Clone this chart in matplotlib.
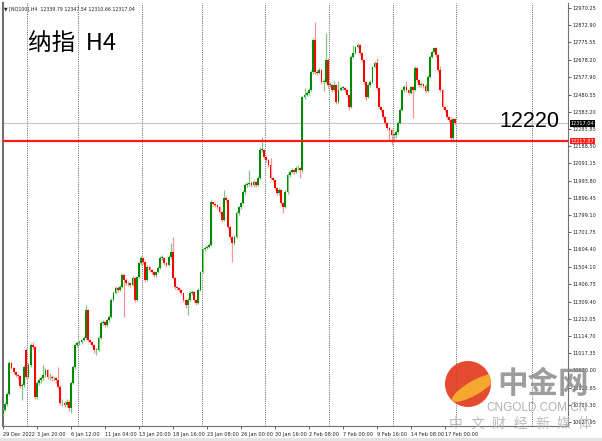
import matplotlib
matplotlib.use('Agg')
import matplotlib.pyplot as plt
from matplotlib.patches import Circle, Ellipse, Rectangle

# NQ100 H4 candles (oldest first)
opens = [10673, 10695, 10729, 10786, 10961, 10933, 10910, 10893, 10888, 10831,
         10837, 11035, 10882, 10950, 11063, 11052, 10769, 10848, 10865, 10876,
         10893, 10922, 10882, 10882, 10876, 10876, 10865, 10826, 10735, 10735,
         10724, 10741, 10707, 10848, 10939, 11063, 11075, 11080, 11092, 11103,
         11261, 11092, 11080, 11063, 11035, 11035, 11103, 11188, 11193, 11176,
         11205, 11222, 11318, 11358, 11386, 11375, 11392, 11459, 11431, 11414,
         11414, 11403, 11443, 11318, 11448, 11527, 11556, 11533, 11431, 11505,
         11488, 11476, 11459, 11476, 11499, 11556, 11556, 11527, 11516, 11561,
         11590, 11443, 11392, 11386, 11375, 11358, 11318, 11290, 11318, 11358,
         11363, 11318, 11301, 11375, 11476, 11607, 11612, 11618, 11629, 11873,
         11861, 11856, 11844, 11816, 11771, 11895, 11884, 11731, 11675, 11641,
         11675, 11810, 11844, 11867, 11929, 11969, 11975, 11980, 11969, 11986,
         11969, 12008, 12167, 12167, 12127, 12110, 12082, 12008, 11997, 11952,
         11924, 11941, 11867, 11844, 11929, 12025, 12042, 12054, 12042, 12065,
         12065, 12054, 12467, 12478, 12490, 12507, 12608, 12790, 12608, 12603,
         12620, 12552, 12552, 12676, 12535, 12535, 12507, 12535, 12439, 12507,
         12518, 12518, 12507, 12478, 12410, 12693, 12716, 12750, 12761, 12716,
         12676, 12552, 12467, 12535, 12552, 12637, 12659, 12518, 12410, 12393,
         12354, 12320, 12292, 12280, 12252, 12252, 12269, 12320, 12393, 12507,
         12524, 12507, 12490, 12524, 12507, 12631, 12563, 12535, 12541, 12529,
         12501, 12580, 12693, 12722, 12744, 12705, 12620, 12507, 12410, 12393,
         12354, 12337, 12235, 12339.79]
highs = [10705, 10740, 10795, 10975, 10970, 10940, 10918, 10900, 10895, 10850,
         10948, 11045, 10960, 11075, 11080, 11060, 10860, 10875, 10890, 10950,
         10935, 10930, 10905, 10895, 10890, 10885, 10939, 10835, 10755, 10748,
         10755, 10750, 10860, 10950, 11072, 11085, 11092, 11100, 11112, 11290,
         11270, 11100, 11088, 11070, 11048, 11112, 11198, 11205, 11200, 11215,
         11235, 11328, 11368, 11398, 11395, 11402, 11470, 11466, 11440, 11428,
         11420, 11452, 11450, 11456, 11535, 11566, 11562, 11540, 11515, 11512,
         11495, 11482, 11485, 11508, 11565, 11575, 11562, 11535, 11570, 11641,
         11675, 11450, 11400, 11392, 11382, 11365, 11325, 11330, 11368, 11375,
         11370, 11325, 11385, 11485, 11615, 11622, 11628, 11640, 11882, 11880,
         11870, 11862, 11850, 11822, 11941, 11905, 11890, 11738, 11682, 11685,
         11820, 11852, 11875, 11938, 11978, 11988, 12054, 11990, 11995, 11992,
         12018, 12184, 12241, 12172, 12135, 12118, 12120, 12015, 12005, 11960,
         11950, 11948, 11875, 11938, 12035, 12052, 12065, 12060, 12075, 12080,
         12072, 12475, 12520, 12500, 12518, 12618, 12800, 12892, 12620, 12632,
         12628, 12570, 12829, 12685, 12550, 12542, 12560, 12542, 12555, 12528,
         12530, 12525, 12512, 12485, 12702, 12760, 12758, 12770, 12768, 12722,
         12682, 12560, 12545, 12562, 12645, 12668, 12690, 12525, 12418, 12400,
         12360, 12328, 12300, 12288, 12265, 12280, 12330, 12402, 12515, 12535,
         12560, 12515, 12532, 12530, 12640, 12638, 12570, 12552, 12548, 12538,
         12590, 12702, 12730, 12752, 12750, 12712, 12640, 12515, 12418, 12400,
         12362, 12355, 12350, 12347.54]
lows = [10665, 10688, 10720, 10780, 10925, 10900, 10885, 10870, 10820, 10752,
        10825, 10870, 10875, 10940, 11040, 10755, 10760, 10835, 10850, 10865,
        10880, 10870, 10865, 10860, 10862, 10850, 10815, 10725, 10720, 10710,
        10712, 10690, 10678, 10840, 10930, 11050, 11065, 11070, 11085, 11095,
        11080, 11070, 11050, 11020, 11005, 11028, 11095, 11178, 11165, 11168,
        11195, 11215, 11310, 11350, 11365, 11368, 11385, 11222, 11405, 11400,
        11392, 11395, 11305, 11310, 11440, 11518, 11522, 11420, 11425, 11478,
        11465, 11450, 11450, 11470, 11492, 11545, 11518, 11505, 11510, 11552,
        11435, 11380, 11375, 11362, 11345, 11305, 11275, 11233, 11310, 11348,
        11305, 11290, 11295, 11368, 11470, 11598, 11605, 11610, 11622, 11852,
        11845, 11835, 11805, 11760, 11765, 11875, 11720, 11665, 11533, 11630,
        11668, 11800, 11835, 11860, 11920, 11960, 11965, 11958, 11960, 11958,
        11962, 12000, 12155, 12118, 12100, 12072, 11998, 11985, 11940, 11912,
        11915, 11855, 11810, 11838, 11920, 12015, 12035, 12032, 12035, 12055,
        12008, 12045, 12458, 12470, 12480, 12500, 12600, 12598, 12590, 12595,
        12540, 12500, 12545, 12520, 12522, 12495, 12500, 12428, 12432, 12500,
        12508, 12498, 12468, 12395, 12405, 12685, 12708, 12742, 12705, 12665,
        12540, 12450, 12460, 12525, 12545, 12630, 12508, 12398, 12380, 12340,
        12308, 12280, 12225, 12195, 12215, 12235, 12260, 12312, 12385, 12498,
        12498, 12478, 12482, 12348, 12500, 12552, 12525, 12525, 12518, 12490,
        12495, 12572, 12685, 12715, 12695, 12608, 12495, 12398, 12380, 12342,
        12325, 12222, 12212, 12310.66]
closes = [10695, 10729, 10786, 10961, 10933, 10910, 10893, 10888, 10831, 10837,
          10939, 10882, 10950, 11063, 11052, 10769, 10848, 10865, 10876, 10893,
          10922, 10882, 10882, 10876, 10876, 10865, 10826, 10735, 10735, 10724,
          10741, 10707, 10848, 10939, 11063, 11075, 11080, 11092, 11103, 11261,
          11092, 11080, 11063, 11035, 11035, 11103, 11188, 11193, 11176, 11205,
          11222, 11318, 11358, 11386, 11375, 11392, 11459, 11431, 11414, 11414,
          11403, 11443, 11318, 11448, 11527, 11556, 11533, 11431, 11505, 11488,
          11476, 11459, 11476, 11499, 11556, 11556, 11527, 11516, 11561, 11590,
          11443, 11392, 11386, 11375, 11358, 11318, 11290, 11318, 11358, 11363,
          11318, 11301, 11375, 11476, 11607, 11612, 11618, 11629, 11873, 11861,
          11856, 11844, 11816, 11771, 11895, 11884, 11731, 11675, 11641, 11675,
          11810, 11844, 11867, 11929, 11969, 11975, 11980, 11969, 11986, 11969,
          12008, 12167, 12167, 12127, 12110, 12082, 12008, 11997, 11952, 11924,
          11941, 11867, 11844, 11929, 12025, 12042, 12054, 12042, 12065, 12065,
          12054, 12467, 12478, 12490, 12507, 12608, 12790, 12608, 12603, 12620,
          12552, 12552, 12676, 12535, 12535, 12507, 12535, 12439, 12507, 12518,
          12518, 12507, 12478, 12410, 12693, 12716, 12750, 12761, 12716, 12676,
          12552, 12467, 12535, 12552, 12637, 12659, 12518, 12410, 12393, 12354,
          12320, 12292, 12280, 12252, 12252, 12269, 12320, 12393, 12507, 12524,
          12507, 12490, 12524, 12507, 12631, 12563, 12535, 12541, 12529, 12501,
          12580, 12693, 12722, 12744, 12705, 12620, 12507, 12410, 12393, 12354,
          12337, 12235, 12340, 12317.04]

# bottom time labels, one every 16 bars
time_labels = ['29 Dec 2022', '3 Jan 20:00', '6 Jan 12:00', '11 Jan 04:00',
               '13 Jan 20:00', '18 Jan 16:00', '23 Jan 08:00', '26 Jan 00:00',
               '30 Jan 16:00', '2 Feb 08:00', '7 Feb 00:00', '9 Feb 16:00',
               '14 Feb 08:00', '17 Feb 00:00']
# weekly period separators (bar positions)
week_seps = [11.5, 35.5, 65.5, 93.5, 123.5, 153.5, 183.5, 213.5, 249]
# price scale labels on the right
price_ticks = [12970.25, 12872.90, 12775.55, 12678.20, 12577.90, 12480.55,
               12383.20, 12285.85, 12188.50, 12091.15, 11993.80, 11896.45,
               11799.10, 11701.75, 11604.40, 11504.10, 11406.75, 11309.40,
               11212.05, 11114.70, 11017.35, 10920.00, 10822.65, 10725.30,
               10627.95]
level_price = 12217.87
last_price = 12317.04

W, H = 602, 441
fig = plt.figure(figsize=(W / 100, H / 100), dpi=100)
fig.patch.set_facecolor('white')
ax = fig.add_axes([3 / W, (H - 426) / H, 565 / W, 423 / H])

n = len(closes)
bull_body, bear_body = '#008a00', '#ff0000'
bull_wick, bear_wick = '#84c684', '#ff9494'

for i in range(n):
    o, h, l, c = opens[i], highs[i], lows[i], closes[i]
    up = c >= o
    ax.vlines(i, l, h, color=bull_wick if up else bear_wick, lw=0.9, zorder=3)
    ax.bar(i, max(abs(c - o), 3), bottom=min(o, c), width=0.85,
           color=bull_body if up else bear_body, linewidth=0, zorder=4)

for s in week_seps:
    ax.axvline(s, color='#606060', lw=0.7, ls=(0, (1, 1.3)), zorder=1)

ax.axhline(last_price, color='#c8c8c8', lw=0.8, zorder=2)
ax.axhline(level_price, color='#ff1a1a', lw=1.6, zorder=5)

ax.set_xlim(0.24, 266.1)
ax.set_ylim(10605, 12999)

# axes frame
ax.spines['top'].set_visible(False)
for side in ['left', 'right', 'bottom']:
    ax.spines[side].set_color('#707070')
    ax.spines[side].set_linewidth(0.8)
ax.spines['left'].set_linewidth(1.5)

ax.yaxis.tick_right()
ax.set_yticks(price_ticks)
ax.set_yticklabels([f'{p:.2f}' for p in price_ticks])
ax.tick_params(axis='y', labelsize=3.6, length=2.5, width=0.5, pad=1,
               colors='#202020')
ax.set_xticks(list(range(0, 16 * len(time_labels), 16)))
ax.set_xticklabels(time_labels, ha='left')
ax.tick_params(axis='x', labelsize=3.6, length=2.5, width=0.5, pad=2,
               colors='#202020')

# price tags on the scale
ax.text(1.004, last_price, f'{last_price:.2f}', transform=ax.get_yaxis_transform(),
        fontsize=3.6, color='white', va='center', ha='left', zorder=10,
        bbox=dict(boxstyle='square,pad=0.15', fc='black', ec='none'), clip_on=False)
ax.text(1.004, level_price, f'{level_price:.2f}', transform=ax.get_yaxis_transform(),
        fontsize=3.6, color='white', va='center', ha='left', zorder=10,
        bbox=dict(boxstyle='square,pad=0.15', fc='#ff1a1a', ec='none'), clip_on=False)

# header and annotations
ax.text(0.002, 0.993, '▼ [NQ100],H4  12339.79 12347.54 12310.66 12317.04',
        transform=ax.transAxes, fontsize=3.4, va='top', ha='left', color='#202020')
ax.text(0.045, 0.905, '纳指  H4', transform=ax.transAxes, fontsize=17,
        family=['Noto Sans CJK SC', 'DejaVu Sans'], va='center', ha='left', color='black')
ax.text(0.878, last_price + 12, '12220', fontsize=15.5, family='Liberation Sans',
        va='center', ha='left', color='black', transform=ax.get_yaxis_transform(),
        zorder=6)

# watermark overlay in pixel coords
ov = fig.add_axes([0, 0, 1, 1], zorder=20)
ov.set_xlim(0, W)
ov.set_ylim(H, 0)
ov.axis('off')
ov.patch.set_alpha(0)
ball = Circle((468, 384), 23, fc='#e2381c', ec='none', alpha=0.9)
ov.add_patch(ball)
swoosh = Ellipse((474, 388), 50, 14, angle=-30, fc='#f6ae2d', ec='none', alpha=0.95)
ov.add_patch(swoosh)
swoosh.set_clip_path(ball)
ov.text(543, 384, '中金网', fontsize=22, fontweight='bold', color='#8c8c8c', alpha=0.85,
        family=['Noto Sans CJK SC', 'DejaVu Sans'], ha='center', va='center')
ov.text(537, 408, 'CNGOLD.COM.CN', fontsize=8.5, color='#a8a8a8', alpha=0.9,
        family='Liberation Sans', ha='center', va='center')
for k, ch in enumerate('中文财经新媒体'):
    ov.text(456 + k * 21.5, 424, ch, fontsize=10, color='#b4b4b4', alpha=0.9,
            family=['Noto Sans CJK SC', 'DejaVu Sans'], ha='center', va='center')
ov.add_patch(Rectangle((0, 438), W, 3, fc='#e4e4e4', ec='none'))

fig.savefig('out.png', dpi=100, facecolor='white')
